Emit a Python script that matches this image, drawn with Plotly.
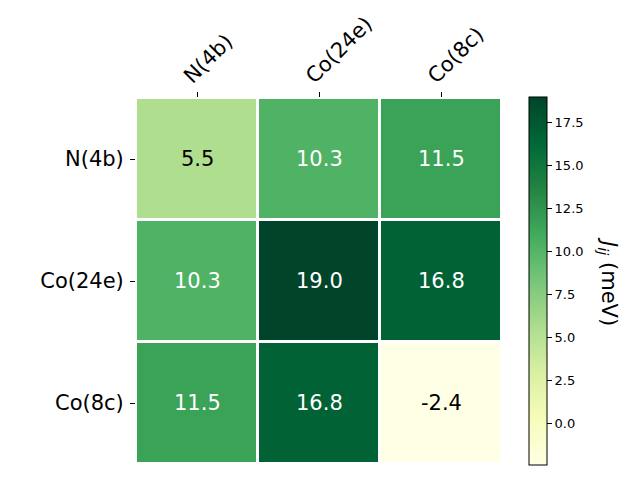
import plotly.graph_objects as go

labels = ["N(4b)", "Co(24e)", "Co(8c)"]
values = [
    [5.5, 10.3, 11.5],
    [10.3, 19.0, 16.8],
    [11.5, 16.8, -2.4],
]
cbar_ticks = [0.0, 2.5, 5.0, 7.5, 10.0, 12.5, 15.0, 17.5]

ylgn = ["#ffffe5", "#f7fcb9", "#d9f0a3", "#addd8e", "#78c679",
        "#41ab5d", "#238443", "#006837", "#004529"]
cscale = [[i / (len(ylgn) - 1), c] for i, c in enumerate(ylgn)]

vmin = min(min(r) for r in values)
vmax = max(max(r) for r in values)

W, H = 640, 480
ax_l, ax_r, ax_t, ax_b = 136, 502, 98, 464

fig = go.Figure()
fig.add_trace(go.Heatmap(
    z=values, x=[0, 1, 2], y=[0, 1, 2],
    colorscale=cscale, zmin=vmin, zmax=vmax,
    xgap=3, ygap=3,
    colorbar=dict(
        x=529 / W, xanchor="left", xpad=0, ypad=0,
        y=(H - 465) / H, yanchor="bottom", len=(465 - 97) / H, lenmode="fraction",
        thickness=18, thicknessmode="pixels",
        outlinecolor="black", outlinewidth=1,
        tickvals=cbar_ticks, ticktext=[f"{v:.1f}" for v in cbar_ticks],
        ticks="outside", ticklen=5, tickcolor="black",
        tickfont=dict(family="DejaVu Sans", size=13, color="black"),
    ),
    hoverinfo="skip",
))

for i, row in enumerate(values):
    for j, v in enumerate(row):
        fig.add_annotation(
            x=j, y=i, text=f"{v:.1f}", showarrow=False,
            font=dict(family="DejaVu Sans", size=21,
                      color="white" if v > 7 else "black"),
        )

fig.add_annotation(
    x=608 / W, y=(H - 281) / H, xref="paper", yref="paper",
    xanchor="center", yanchor="middle",
    text="<i>J</i><sub><i>ij</i></sub> (meV)", textangle=90, showarrow=False,
    font=dict(family="DejaVu Sans", size=21, color="black"),
)

fig.update_layout(
    width=W, height=H,
    margin=dict(l=0, r=0, t=0, b=0, autoexpand=False),
    plot_bgcolor="white", paper_bgcolor="white",
    xaxis=dict(
        domain=[ax_l / W, ax_r / W], range=[-0.5, 2.5], side="top",
        tickvals=[0, 1, 2], ticktext=labels, tickangle=-45,
        ticks="outside", ticklen=5, tickcolor="black", automargin=False,
        ticklabelshift=-12, ticklabelstandoff=-4,
        tickfont=dict(family="DejaVu Sans", size=21, color="black"),
        showgrid=False, zeroline=False, showline=False,
    ),
    yaxis=dict(
        domain=[(H - ax_b) / H, (H - ax_t) / H], range=[2.5, -0.5],
        tickvals=[0, 1, 2], ticktext=labels, automargin=False,
        ticks="outside", ticklen=5, tickcolor="black",
        ticklabelstandoff=2,
        tickfont=dict(family="DejaVu Sans", size=21, color="black"),
        showgrid=False, zeroline=False, showline=False,
    ),
)

fig.write_html("out.html", post_script="document.body.style.margin='0';",
               config={"displayModeBar": False})
